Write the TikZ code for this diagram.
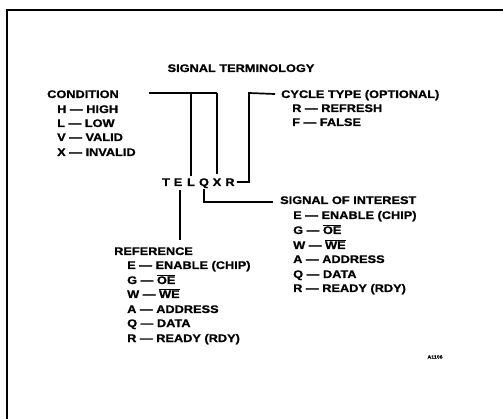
\documentclass[tikz,border=0pt]{standalone}
\usepackage{fontspec}
\setmainfont{Liberation Sans}[FakeStretch=1.16,FakeBold=1]
\newcommand{\ovl}[1]{$\overline{\mbox{#1}}$}
\begin{document}
\begin{tikzpicture}[x=1pt,y=-1pt,
  lbl/.style={inner sep=0pt,anchor=west,text height=8pt,text depth=0pt,font=\fontsize{11}{13}\selectfont\bfseries},
  ltr/.style={inner sep=0pt,anchor=center,text height=8pt,text depth=0pt,font=\fontsize{11}{13}\selectfont\bfseries},
  conn/.style={line width=1.7pt},
  frame/.style={line width=2.6pt}]
\useasboundingbox (0,0) rectangle (503,419);
% frame
\draw[frame] (7,419) -- (7,10) -- (503,10);
% title
\node[ltr] (title) at (241,68) {SIGNAL TERMINOLOGY};
% condition
\node[lbl] (cond) at (47,94) {CONDITION};
\node[lbl] (c1) at (57,109) {H — HIGH};
\node[lbl] (c2) at (57,123) {L — LOW};
\node[lbl] (c3) at (57,137) {V — VALID};
\node[lbl] (c4) at (57,152) {X — INVALID};
% cycle type
\node[lbl] (cyc) at (281,94) {CYCLE TYPE (OPTIONAL)};
\node[lbl] (y1) at (292,108) {R — REFRESH};
\node[lbl] (y2) at (292,122) {F — FALSE};
% letters
\node[ltr] (lT) at (166,182) {T};
\node[ltr] (lE) at (178,182) {E};
\node[ltr] (lL) at (191,182) {L};
\node[ltr] (lQ) at (204,182) {Q};
\node[ltr] (lX) at (217,182) {X};
\node[ltr] (lR) at (230,182) {R};
% signal of interest
\node[lbl] (sig) at (280,200) {SIGNAL OF INTEREST};
\node[lbl] (s1) at (293,215) {E — ENABLE (CHIP)};
\node[lbl] (s2) at (293,230) {G — \ovl{OE}};
\node[lbl] (s3) at (293,245) {W — \ovl{WE}};
\node[lbl] (s4) at (293,259) {A — ADDRESS};
\node[lbl] (s5) at (293,274) {Q — DATA};
\node[lbl] (s6) at (293,288) {R — READY (RDY)};
% reference
\node[lbl] (ref) at (114,251) {REFERENCE};
\node[lbl] (r1) at (127,265) {E — ENABLE (CHIP)};
\node[lbl] (r2) at (127,280) {G — \ovl{OE}};
\node[lbl] (r3) at (127,294) {W — \ovl{WE}};
\node[lbl] (r4) at (127,309) {A — ADDRESS};
\node[lbl] (r5) at (127,323) {Q — DATA};
\node[lbl] (r6) at (127,338) {R — READY (RDY)};
% id
\node[inner sep=0pt,font=\fontsize{4.5}{5}\selectfont\bfseries] (id) at (435,357) {A1106};
% connectors
\coordinate (cstart) at (149,93);
\draw[conn] (cstart) -- (217,93);
\draw[conn] (lL.north |- cstart) -- ([yshift=2pt]lL.north);
\draw[conn] (lX.north |- cstart) -- ([yshift=4pt]lX.north);
\draw[conn] ([xshift=2pt]lR.east) -- (249,182) -- (249,93) -- ([xshift=-6pt]cyc.west);
\draw[conn] ([yshift=-3pt]lQ.south) -- (204,202) -- ([xshift=-7pt]sig.west |- 0,202);
\draw[conn] ([xshift=2pt,yshift=-4pt]lE.south) -- ([xshift=2pt]lE.south |- 0,240);
\end{tikzpicture}
\end{document}
